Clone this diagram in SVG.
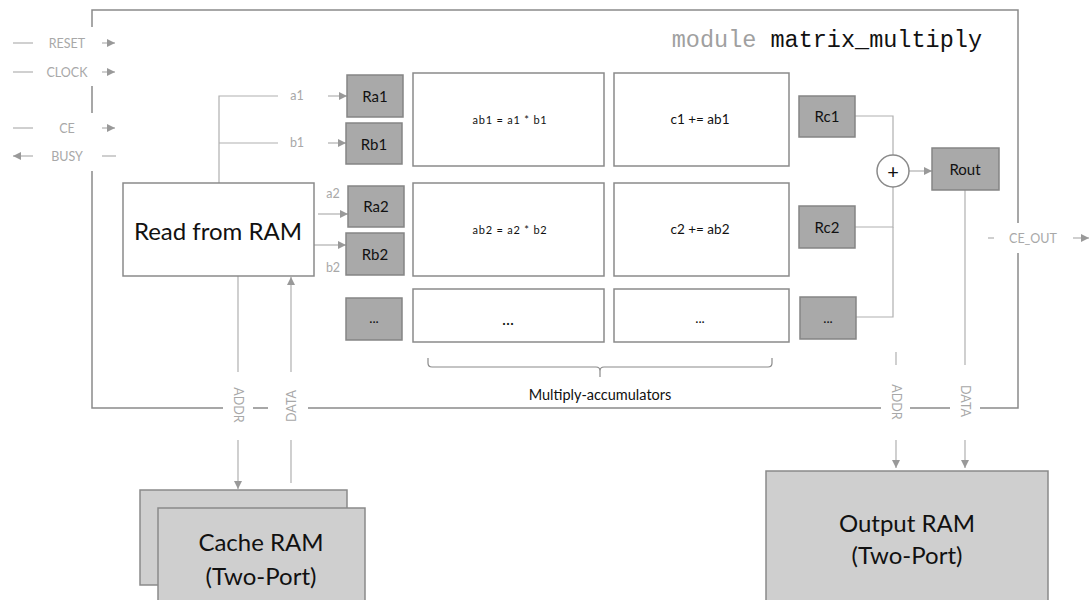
<svg xmlns="http://www.w3.org/2000/svg" width="1089" height="600" viewBox="0 0 1089 600">
  <defs>
    <marker id="arr" viewBox="0 0 10 10" refX="10" refY="5" markerWidth="9" markerHeight="8" markerUnits="userSpaceOnUse" orient="auto">
      <path d="M0,0 L10,5 L0,10 z" fill="#999"/>
    </marker>
    <style>
      .border { fill: none; stroke: #8a8a8a; stroke-width: 1.5; }
      .wire { fill: none; stroke: #b0b0b0; stroke-width: 1.2; }
      .wireA { fill: none; stroke: #b0b0b0; stroke-width: 1.2; marker-end: url(#arr); }
      .sig { font-family: Lato, "Liberation Sans", sans-serif; font-size: 12.5px; fill: #a8a8a8; text-anchor: middle; dominant-baseline: central; }
      .box { fill: #ffffff; stroke: #8a8a8a; stroke-width: 1.5; }
      .reg { fill: #a9a9a9; stroke: #858585; stroke-width: 1.5; }
      .ram { fill: #cfcfcf; stroke: #8a8a8a; stroke-width: 1.5; }
      .lbl { font-family: Lato, "Liberation Sans", sans-serif; fill: #111; text-anchor: middle; dominant-baseline: central; }
      .r { font-size: 15px; }
      .big { font-size: 24px; }
      .mac { font-size: 11px; letter-spacing: 0.8px; }
      .acc { font-size: 13.5px; }
    </style>
  </defs>

  <!-- module outline, broken where port names cross it -->
  <g id="module-border" class="border">
    <polyline points="92,27 92,10 1018,10 1018,223"/>
    <line x1="92" y1="86" x2="92" y2="113"/>
    <polyline points="92,171 92,408 223,408"/>
    <line x1="253" y1="408" x2="268" y2="408"/>
    <line x1="308" y1="408" x2="881" y2="408"/>
    <line x1="910" y1="408" x2="950" y2="408"/>
    <polyline points="980,408 1018,408 1018,253"/>
  </g>

  <g id="module-title">
    <text x="982" y="47" font-family="'Liberation Mono', 'DejaVu Sans Mono', monospace" font-size="23.5" text-anchor="end"><tspan fill="#a0a0a0">module </tspan><tspan fill="#111">matrix_multiply</tspan></text>
  </g>

  <!-- connectors -->
  <g id="connectors">
    <!-- control ports -->
    <line class="wire" x1="13" y1="43" x2="33" y2="43"/>
    <line class="wireA" x1="102" y1="43" x2="115" y2="43"/>
    <line class="wire" x1="13" y1="72" x2="33" y2="72"/>
    <line class="wireA" x1="102" y1="72" x2="115" y2="72"/>
    <line class="wire" x1="13" y1="128" x2="33" y2="128"/>
    <line class="wireA" x1="102" y1="128" x2="115" y2="128"/>
    <line class="wireA" x1="33" y1="156" x2="13" y2="156"/>
    <line class="wire" x1="102" y1="156" x2="116" y2="156"/>
    <!-- operand fan-out -->
    <polyline class="wire" points="219,183 219,96 278,96"/>
    <line class="wire" x1="219" y1="143" x2="278" y2="143"/>
    <line class="wireA" x1="328" y1="96" x2="347" y2="96"/>
    <line class="wireA" x1="328" y1="143" x2="346" y2="143"/>
    <line class="wireA" x1="318" y1="214" x2="348" y2="214"/>
    <line class="wireA" x1="314" y1="245" x2="346" y2="245"/>
    <!-- accumulator reduction -->
    <polyline class="wire" points="855,116 893,116 893,155"/>
    <polyline class="wire" points="855,227 893,227 893,187"/>
    <polyline class="wire" points="856,317 893,317 893,227"/>
    <line class="wireA" x1="909" y1="171" x2="932" y2="171"/>
    <!-- cache RAM ports -->
    <line class="wire" x1="238" y1="276" x2="238" y2="372"/>
    <line class="wireA" x1="238" y1="440" x2="238" y2="489"/>
    <line class="wireA" x1="291" y1="372" x2="291" y2="277"/>
    <line class="wire" x1="291" y1="440" x2="291" y2="483"/>
    <!-- output RAM ports -->
    <line class="wire" x1="896" y1="352" x2="896" y2="365"/>
    <line class="wireA" x1="896" y1="440" x2="896" y2="468"/>
    <line class="wire" x1="965" y1="190" x2="965" y2="365"/>
    <line class="wireA" x1="965" y1="440" x2="965" y2="468"/>
    <!-- CE_OUT -->
    <line class="wire" x1="988" y1="238" x2="994" y2="238"/>
    <line class="wireA" x1="1073" y1="238" x2="1089" y2="238"/>
  </g>

  <!-- port names -->
  <g id="port-labels">
    <text class="sig" x="67" y="43">RESET</text>
    <text class="sig" x="67" y="72">CLOCK</text>
    <text class="sig" x="67" y="128">CE</text>
    <text class="sig" x="67" y="156">BUSY</text>
    <text class="sig" x="297" y="95">a1</text>
    <text class="sig" x="297" y="142">b1</text>
    <text class="sig" x="333" y="193">a2</text>
    <text class="sig" x="333" y="267">b2</text>
    <text class="sig" x="1033" y="238">CE_OUT</text>
    <text class="sig" transform="translate(238,405) rotate(90)">ADDR</text>
    <text class="sig" transform="translate(291,406) rotate(-90)">DATA</text>
    <text class="sig" transform="translate(896,402) rotate(90)">ADDR</text>
    <text class="sig" transform="translate(965,401) rotate(90)">DATA</text>
  </g>

  <g id="read-from-ram">
    <rect class="box" x="123" y="183" width="191" height="93"/>
    <text class="lbl big" x="218" y="230">Read from RAM</text>
  </g>

  <g id="ra1"><rect class="reg" x="347" y="75" width="56" height="42"/><text class="lbl r" x="375" y="96">Ra1</text></g>
  <g id="rb1"><rect class="reg" x="346" y="123" width="56" height="41"/><text class="lbl r" x="374" y="144">Rb1</text></g>
  <g id="ra2"><rect class="reg" x="348" y="186" width="56" height="41"/><text class="lbl r" x="376" y="206">Ra2</text></g>
  <g id="rb2"><rect class="reg" x="346" y="233" width="58" height="42"/><text class="lbl r" x="375" y="254">Rb2</text></g>
  <g id="rn"><rect class="reg" x="346" y="298" width="56" height="42"/><text class="lbl acc" x="374" y="318">...</text></g>

  <g id="mul1"><rect class="box" x="413" y="73" width="191" height="93"/><text class="lbl mac" x="510" y="119">ab1 = a1 * b1</text></g>
  <g id="mul2"><rect class="box" x="413" y="183" width="191" height="93"/><text class="lbl mac" x="510" y="229">ab2 = a2 * b2</text></g>
  <g id="muln"><rect class="box" x="413" y="289" width="191" height="53"/><text class="lbl" font-size="17" x="508" y="318">...</text></g>

  <g id="acc1"><rect class="box" x="614" y="73" width="175" height="93"/><text class="lbl acc" x="700" y="119">c1 += ab1</text></g>
  <g id="acc2"><rect class="box" x="614" y="183" width="175" height="93"/><text class="lbl acc" x="700" y="229">c2 += ab2</text></g>
  <g id="accn"><rect class="box" x="614" y="289" width="175" height="53"/><text class="lbl acc" x="700" y="318">...</text></g>

  <g id="rc1"><rect class="reg" x="799" y="96" width="56" height="41"/><text class="lbl r" x="827" y="116">Rc1</text></g>
  <g id="rc2"><rect class="reg" x="799" y="206" width="56" height="42"/><text class="lbl r" x="827" y="227">Rc2</text></g>
  <g id="rcn"><rect class="reg" x="800" y="297" width="56" height="42"/><text class="lbl acc" x="828" y="318">...</text></g>

  <g id="adder">
    <circle cx="893" cy="171" r="16" fill="#fff" stroke="#8a8a8a" stroke-width="1.5"/>
    <text class="lbl" font-size="20" x="893" y="171">+</text>
  </g>

  <g id="rout"><rect class="reg" x="932" y="148" width="67" height="42"/><text class="lbl r" x="965" y="169">Rout</text></g>

  <g id="mac-brace">
    <path d="M428,358 L428,363 Q428,367 432,367 L596,367 Q600,367 600,371 L600,377 M600,371 Q600,367 604,367 L768,367 Q772,367 772,363 L772,358" fill="none" stroke="#8a8a8a" stroke-width="1.2"/>
    <text class="lbl" font-size="14.5" x="600" y="394">Multiply-accumulators</text>
  </g>

  <g id="cache-ram">
    <rect class="ram" x="140" y="490" width="207" height="95"/>
    <rect class="ram" x="158" y="508" width="207" height="100"/>
    <text class="lbl big" x="261" y="541">Cache RAM</text>
    <text class="lbl big" x="261" y="575">(Two-Port)</text>
  </g>

  <g id="output-ram">
    <rect class="ram" x="766" y="471" width="282" height="140"/>
    <text class="lbl big" x="907" y="522">Output RAM</text>
    <text class="lbl big" x="907" y="554">(Two-Port)</text>
  </g>
</svg>
